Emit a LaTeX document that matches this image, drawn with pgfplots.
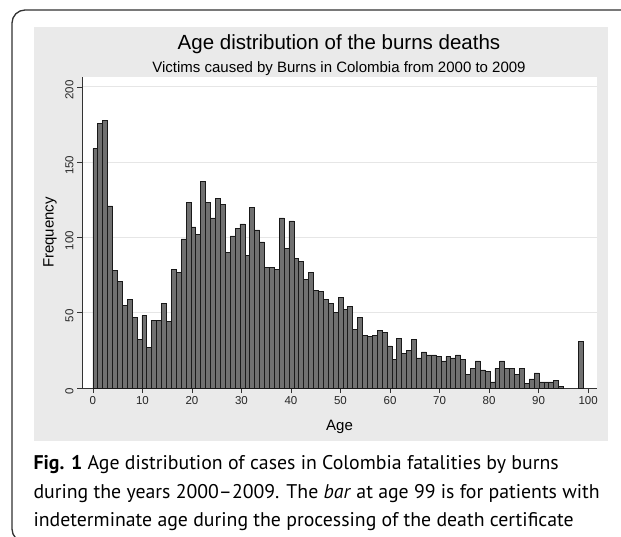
\documentclass[border=0pt]{standalone}
\usepackage{fontspec}
\setmainfont{Liberation Sans}
\newfontfamily\capfont{PT Sans}
\usepackage{pgfplots}
\pgfplotsset{compat=1.18}
\usepackage{pgfplotstable}

\pgfplotstableread{
age freq
0 159
1 176
2 178
3 121
4 78
5 71
6 55
7 59
8 47
9 32
10 48
11 27
12 45
13 45
14 56
15 44
16 79
17 77
18 99
19 123
20 107
21 102
22 137
23 123
24 113
25 126
26 122
27 90
28 101
29 106
30 109
31 88
32 120
33 105
34 97
35 80
36 80
37 79
38 113
39 93
40 111
41 86
42 84
43 72
44 77
45 65
46 64
47 59
48 56
49 50
50 60
51 52
52 54
53 39
54 47
55 35
56 34
57 35
58 38
59 37
60 28
61 19
62 33
63 23
64 25
65 32
66 20
67 24
68 22
69 22
70 21
71 18
72 21
73 20
74 22
75 19
76 9
77 13
78 18
79 12
80 11
81 4
82 13
83 18
84 13
85 13
86 9
87 13
88 3
89 6
90 10
91 4
92 4
93 4
94 5
95 1
99 31
}\agedata

\definecolor{regiongray}{RGB}{234,234,234}
\definecolor{bargray}{RGB}{112,112,112}
\definecolor{gridgray}{RGB}{230,230,230}
\definecolor{framegray}{RGB}{50,50,50}

\begin{document}
\begin{tikzpicture}
\useasboundingbox (0,0) rectangle (621pt,-537pt);
\fill[white] (0,0) rectangle (621pt,-537pt);
\fill[regiongray] (34pt,-27pt) rectangle (608pt,-441pt);
\draw[line width=1.3pt, framegray, rounded corners=13pt] (60pt,-542pt) -- (12pt,-542pt) -- (12pt,-10pt) -- (680pt,-10pt);

\node[anchor=base, font=\fontsize{20.5}{20.5}\selectfont] at (339pt,-50pt) {Age distribution of the burns deaths};
\node[anchor=base, font=\fontsize{15}{15}\selectfont] at (339pt,-73pt) {Victims caused by Burns in Colombia from 2000 to 2009};

\begin{axis}[
  at={(82pt,-388pt)}, anchor=south west,
  scale only axis, width=515pt, height=311pt,
  xmin=-2.2, xmax=101.8, ymin=0, ymax=206.6,
  axis background/.style={fill=white},
  axis x line*=bottom, axis y line*=left,
  axis line style={black!80, line width=0.7pt},
  xtick={0,10,...,100}, ytick={0,50,100,150,200},
  tick align=outside, major tick length=5pt,
  tick style={black!80, line width=0.6pt},
  ymajorgrids, grid style={gridgray, line width=1pt},
  /pgf/number format/assume math mode=true,
  ticklabel style={font=\fontsize{11.5}{11.5}\selectfont, text=black!85},
  yticklabel style={rotate=90, anchor=south, xshift=-3pt},
  xlabel={Age}, ylabel={Frequency},
  xlabel style={font=\fontsize{15}{15}\selectfont, at={(axis description cs:0.5,-0.1254)}, anchor=center},
  ylabel style={font=\fontsize{15}{15}\selectfont, at={(axis description cs:-0.0621,0.5)}, anchor=center},
  clip=false,
]
\addplot[ybar, bar width=0.99, bar shift=0, fill=bargray, draw=black!90, line width=0.7pt]
  table[x expr=\thisrow{age}*0.99+0.495, y=freq]{\agedata};
\end{axis}

\node[anchor=base west, font=\capfont\fontsize{19.8}{19.8}\selectfont] at (30pt,-469pt) {\textbf{Fig. 1} Age distribution of cases in Colombia fatalities by burns};
\node[anchor=base west, font=\capfont\fontsize{19.8}{19.8}\selectfont] at (30pt,-498pt) {during the years 2000\textendash 2009. The \textit{bar} at age 99 is for patients with};
\node[anchor=base west, font=\capfont\fontsize{19.8}{19.8}\selectfont] at (30pt,-526pt) {indeterminate age during the processing of the death certificate};
\end{tikzpicture}
\end{document}
